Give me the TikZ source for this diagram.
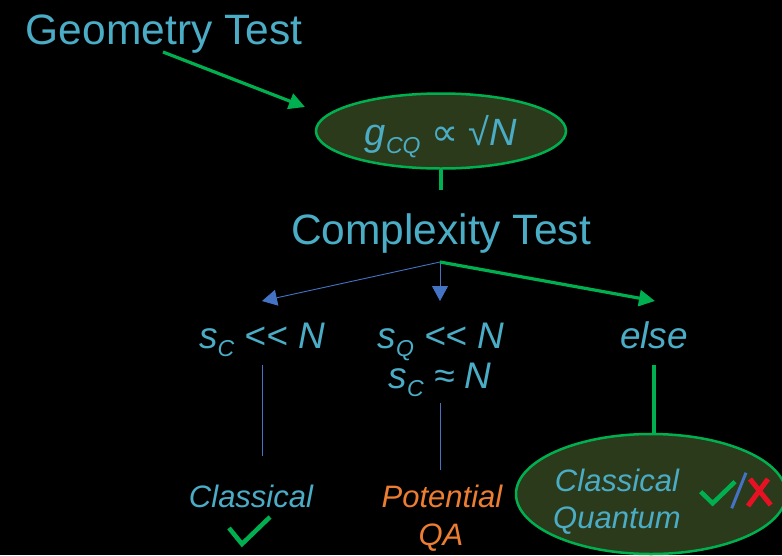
\documentclass[tikz,border=0pt]{standalone}
\usepackage{fontspec}
\setmainfont{Liberation Sans}
\newfontfamily\symf{DejaVu Sans}
\usetikzlibrary{arrows.meta,shapes.geometric}
\definecolor{cy}{HTML}{4BACC6}
\definecolor{gr}{HTML}{00B050}
\definecolor{ol}{HTML}{2B3A1A}
\definecolor{bl}{HTML}{4472C4}
\definecolor{orn}{HTML}{ED7D31}
\definecolor{rd}{HTML}{E81123}
\newcommand\sbx[1]{\raisebox{-8pt}{\fontsize{23}{23}\selectfont #1}}
\newcommand\mylt{<\kern0pt<}
\begin{document}
\begin{tikzpicture}[x=1pt,y=-1pt,
  title/.style={text=cy,inner sep=0,anchor=base,font=\fontsize{42.5}{46}\selectfont},
  lab/.style={text=cy,inner sep=0,anchor=base,font=\fontsize{37}{40}\selectfont\itshape},
  slab/.style={inner sep=0,anchor=base,font=\fontsize{31}{36}\selectfont\itshape},
  oval/.style={ellipse,draw=gr,line width=2.5pt,fill=ol,inner sep=0},
  gline/.style={draw=gr,line width=3.2pt},
  bline/.style={draw=bl,line width=0.9pt},
  garrow/.style={gline,-{Triangle[length=16pt,width=16pt]}},
  barrow/.style={bline,-{Triangle[length=15pt,width=16pt]}},
  tick/.style={line width=4.5pt,miter limit=10}
]
\fill[black] (0,0) rectangle (782,555);
\useasboundingbox (0,0) rectangle (782,555);

% top
\node[title] (geo) at (164,44) {Geometry Test};
\node[oval,minimum width=250pt,minimum height=75pt] (e1) at (441,131) {};
\node[lab,font=\fontsize{38}{40}\selectfont\itshape] (g) at (441,145) {g\sbx{CQ} {\upshape\symf ∝} {\upshape √}N};
\coordinate (ga) at (163,52);
\coordinate (gb) at (305,107);
\draw[garrow] (ga) -- (gb);

\node[title] (cx) at (441,244) {Complexity Test};
\coordinate (cxt) at (441,190);
\draw[gline] (e1.south) -- (cxt);

% branches
\coordinate (br) at (440,262);
\coordinate (t1) at (262,301);
\coordinate (t2) at (440,301);
\coordinate (t3) at (655,301);
\draw[barrow] (br) -- (t1);
\draw[barrow] (br) -- (t2);
\draw[garrow] (br) -- (t3);

\node[lab] (c1) at (262,348) {s\sbx{C} \mylt{} N};
\node[lab] (c2) at (441,348) {s\sbx{Q} \mylt{} N};
\node[lab] (c2b) at (440,388) {s\sbx{C} ≈ N};
\node[lab] (c3) at (654,348) {else};

% lower lines
\coordinate (l1a) at (262,365);
\coordinate (l1b) at (262,456);
\coordinate (l2a) at (440,403);
\coordinate (l2b) at (440,470);
\coordinate (l3a) at (654,365);
\draw[bline] (l1a) -- (l1b);
\draw[bline] (l2a) -- (l2b);

\node[oval,minimum width=270pt,minimum height=120pt] (e2) at (651,494) {};
\draw[gline] (l3a) -- (l3a |- e2.north);

% outcomes
\node[slab,text=cy] (o1) at (251,507) {Classical};
\draw[tick,gr] (229,528) -- (242,544) -- (270,517);
\node[slab,text=orn] (o2) at (442,507) {Potential};
\node[slab,text=orn] (o2b) at (441,545) {QA};
\node[slab,text=cy] (o3) at (617,491) {Classical};
\node[slab,text=cy] (o3b) at (617,528) {Quantum};
\draw[tick,gr] (700.7,491.7) -- (712.7,503.3) -- (735,481.7);
\draw[bl,line width=3pt] (746,472.7) -- (731.7,508.3);
\draw[rd,line width=5pt] (750,479) -- (770.7,505);
\draw[rd,line width=5pt] (768,479) -- (748,506);
\end{tikzpicture}
\end{document}
